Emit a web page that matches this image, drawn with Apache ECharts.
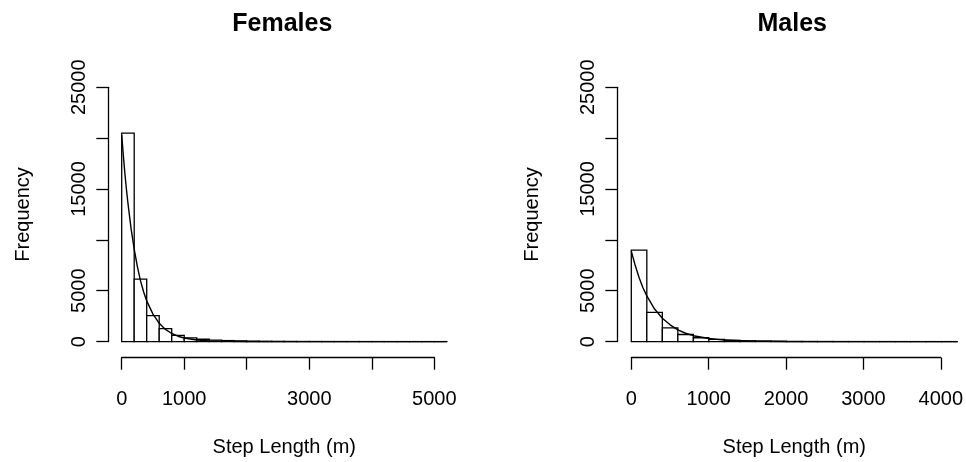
<!DOCTYPE html>
<html>
<head>
<meta charset="utf-8">
<script src="https://cdn.jsdelivr.net/npm/echarts@6/dist/echarts.min.js"></script>
<style>
html,body{margin:0;padding:0;background:#fff;}
#c{width:966px;height:462px;}
</style>
</head>
<body>
<div id="c"></div>
<script>
// ---- data ----
const binWidth = 200; // metres
const femaleCounts = [20500, 6150, 2550, 1270, 620, 370, 230, 150, 100, 70, 50, 35, 25, 18, 12, 10, 8, 6, 5, 4, 3, 2, 2, 1, 1, 1];
const maleCounts = [9000, 2880, 1350, 700, 380, 220, 130, 80, 50, 30, 20, 14, 10, 7, 5, 4, 3, 2, 1, 1, 1];

const femaleCurveX = [0, 25, 50, 75, 100, 150, 200, 250, 300, 350, 400, 500, 600, 700, 800, 900, 1000, 1200, 1400, 1700, 2000, 2500, 5200];
const femaleCurveY = [20300, 18400, 16600, 15000, 13600, 11100, 9100, 7400, 6000, 4900, 4000, 2700, 1800, 1200, 800, 530, 350, 160, 70, 20, 6, 0, 0];
const maleCurveX = [0, 50, 100, 150, 200, 300, 400, 500, 600, 700, 800, 1000, 1200, 1500, 2000, 2500, 4200];
const maleCurveY = [8900, 7500, 6300, 5300, 4500, 3200, 2300, 1650, 1150, 820, 580, 300, 150, 55, 10, 0, 0];

const femaleXTickLabels = ['0', '1000', '', '3000', '', '5000'];
const maleXTickLabels = ['0', '1000', '2000', '3000', '4000'];
const yTickLabels = ['0', '5000', '', '15000', '', '25000'];

const titles = ['Females', 'Males'];
const xTitle = 'Step Length (m)';
const yTitle = 'Frequency';

// ---- build chart ----
(function () {
const FONT = 'Liberation Sans, Arial, sans-serif';
const black = '#000';

function bins(counts) {
  return counts.map((c, i) => [i * binWidth, (i + 1) * binWidth, c]);
}
function pairs(xs, ys) { return xs.map((x, i) => [x, ys[i]]); }

function renderBar(params, api) {
  const p0 = api.coord([api.value(0), api.value(2)]);
  const p1 = api.coord([api.value(1), 0]);
  return {
    type: 'rect',
    shape: { x: p0[0], y: p0[1], width: p1[0] - p0[0], height: p1[1] - p0[1] },
    style: { fill: '#fff', stroke: black, lineWidth: 1.3 }
  };
}

const femaleMax = femaleCounts.length * binWidth;
const maleMax = maleCounts.length * binWidth;

const panels = [
  { left: 121.7, pxPerUnit: 0.062524, dataMax: femaleMax, axisMax: 5000, labels: femaleXTickLabels, yOffset: 13.4, counts: femaleCounts, cx: femaleCurveX, cy: femaleCurveY },
  { left: 631.3, pxPerUnit: 0.07760, dataMax: maleMax, axisMax: 4000, labels: maleXTickLabels, yOffset: 14, counts: maleCounts, cx: maleCurveX, cy: maleCurveY }
];

const grid = [], xAxis = [], yAxis = [], series = [], title = [];
const gridTop = 87.3, gridHeight = 260;

panels.forEach((p, k) => {
  const gData = grid.length;
  grid.push({ left: p.left, top: gridTop, width: p.dataMax * p.pxPerUnit, height: gridHeight, containLabel: false });
  const gAxis = grid.length;
  grid.push({ left: p.left, top: gridTop, width: p.axisMax * p.pxPerUnit, height: gridHeight, containLabel: false });

  xAxis.push({
    gridIndex: gData, type: 'value', min: 0, max: p.dataMax, offset: 10.4,
    axisLine: { show: false, onZero: false }, axisTick: { show: false }, axisLabel: { show: false }, splitLine: { show: false },
    name: xTitle, nameLocation: 'middle', nameGap: 85,
    nameTextStyle: { color: black, fontFamily: FONT, fontSize: 20 }
  });
  xAxis.push({
    gridIndex: gAxis, type: 'value', min: 0, max: p.axisMax, interval: 1000, offset: 10.4,
    axisLine: { show: true, onZero: false, lineStyle: { color: black, width: 1.3 } },
    axisTick: { show: true, length: 12, lineStyle: { color: black, width: 1.3 } },
    axisLabel: {
      show: true, color: black, fontFamily: FONT, fontSize: 20, margin: 32,
      showMinLabel: true, showMaxLabel: true, hideOverlap: false,
      formatter: (v) => p.labels[Math.round(v / 1000)] || ''
    },
    splitLine: { show: false }
  });

  yAxis.push({
    gridIndex: gData, type: 'value', min: 0, max: 25000, interval: 5000, offset: p.yOffset,
    axisLine: { show: true, onZero: false, lineStyle: { color: black, width: 1.3 } },
    axisTick: { show: true, length: 12, lineStyle: { color: black, width: 1.3 } },
    axisLabel: {
      show: true, color: black, fontFamily: FONT, fontSize: 20, rotate: 90, margin: 19,
      showMinLabel: true, showMaxLabel: true, hideOverlap: false,
      formatter: (v) => yTickLabels[Math.round(v / 5000)] || ''
    },
    splitLine: { show: false },
    name: yTitle, nameLocation: 'middle', nameGap: 75,
    nameTextStyle: { color: black, fontFamily: FONT, fontSize: 20 }
  });
  yAxis.push({ gridIndex: gAxis, type: 'value', min: 0, max: 25000, show: false, axisLine: { onZero: false } });

  series.push({
    type: 'custom', xAxisIndex: gData, yAxisIndex: gData,
    renderItem: renderBar, data: bins(p.counts), clip: false, silent: true
  });
  series.push({
    type: 'line', xAxisIndex: gData, yAxisIndex: gData,
    data: pairs(p.cx, p.cy), symbol: 'none', smooth: false,
    lineStyle: { color: black, width: 1.4 }, silent: true, clip: false, z: 5
  });

  title.push({
    text: titles[k],
    left: p.left + (p.dataMax / 2) * p.pxPerUnit - 2, top: 12, textAlign: 'center', padding: 0,
    textStyle: { color: black, fontFamily: FONT, fontSize: 25, fontWeight: 'bold' }
  });
});

const chart = echarts.init(document.getElementById('c'), null, { renderer: 'canvas' });
chart.setOption({
  animation: false,
  backgroundColor: '#fff',
  title: title,
  grid: grid,
  xAxis: xAxis,
  yAxis: yAxis,
  series: series
});
})();
</script>
</body>
</html>
